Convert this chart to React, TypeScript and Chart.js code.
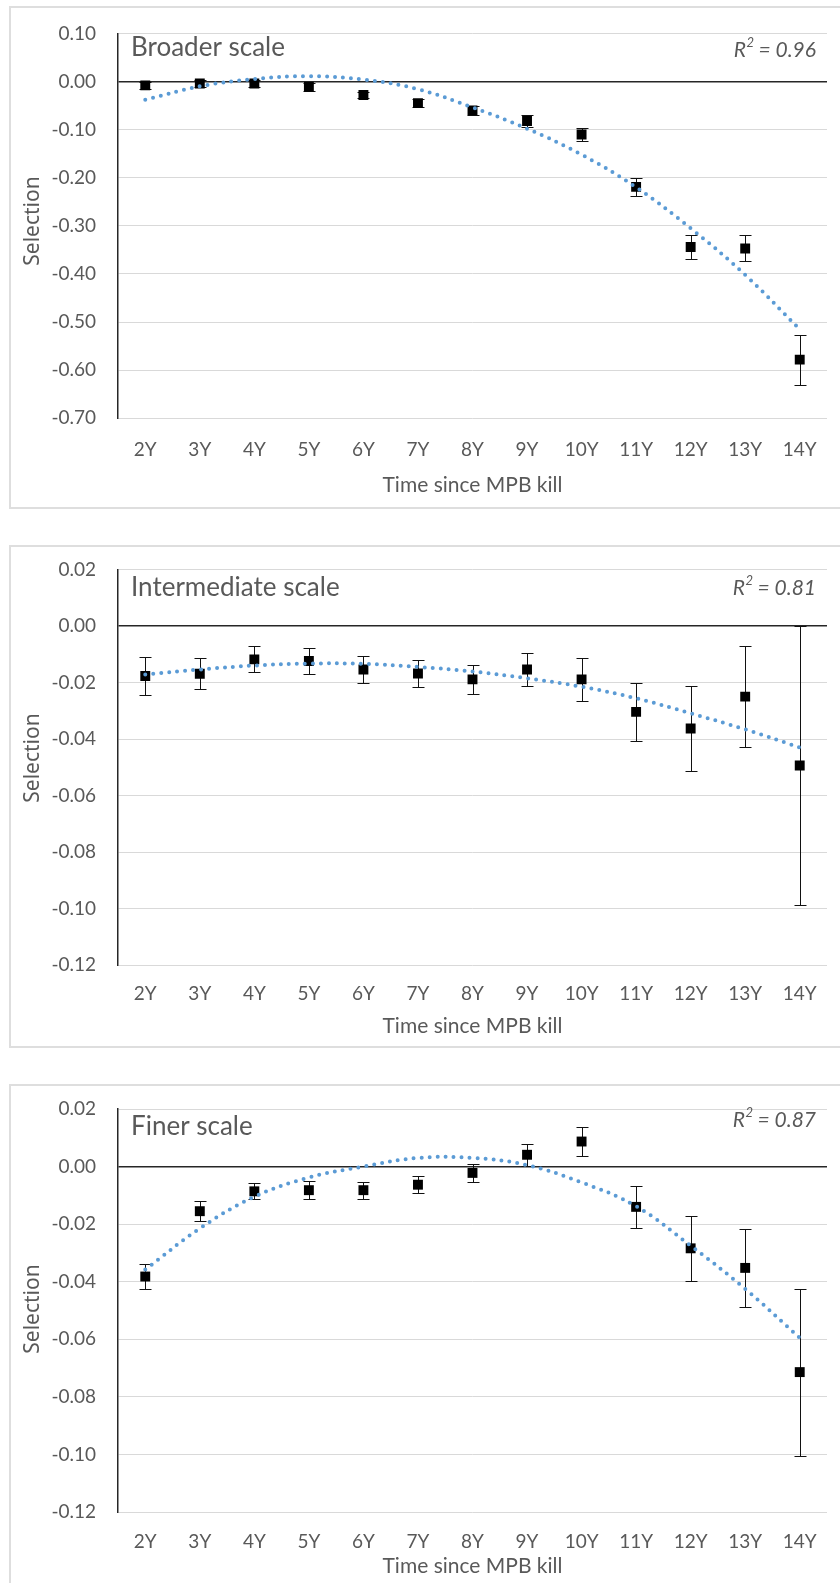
import React, { useEffect, useRef } from "react";
import { Chart, registerables } from "chart.js";

Chart.register(...registerables);

// ---------- data ----------
const categories = ["2Y", "3Y", "4Y", "5Y", "6Y", "7Y", "8Y", "9Y", "10Y", "11Y", "12Y", "13Y", "14Y"];

const broaderValues = [-0.008, -0.004, -0.004, -0.011, -0.028, -0.045, -0.060, -0.082, -0.110, -0.219, -0.344, -0.347, -0.578];
const broaderErrors = [0.008, 0.008, 0.008, 0.008, 0.007, 0.008, 0.009, 0.013, 0.014, 0.019, 0.024, 0.027, 0.052];
const broaderTrend = [-0.038, -0.010, 0.005, 0.011, 0.004, -0.016, -0.054, -0.098, -0.152, -0.220, -0.305, -0.402, -0.515];
const broaderTicks = [0.1, 0.0, -0.1, -0.2, -0.3, -0.4, -0.5, -0.6, -0.7];

const interValues = [-0.0177, -0.0169, -0.0118, -0.0124, -0.0154, -0.0168, -0.0189, -0.0154, -0.0189, -0.0304, -0.0363, -0.0250, -0.0494];
const interErrors = [0.0067, 0.0055, 0.0046, 0.0045, 0.0048, 0.0048, 0.0050, 0.0058, 0.0075, 0.0103, 0.0150, 0.0178, 0.0494];
const interTrend = [-0.0172, -0.0154, -0.0140, -0.0133, -0.0134, -0.0145, -0.0161, -0.0185, -0.0215, -0.0256, -0.0309, -0.0366, -0.0430];
const interTicks = [0.02, 0.0, -0.02, -0.04, -0.06, -0.08, -0.10, -0.12];

const finerValues = [-0.0382, -0.0155, -0.0086, -0.0082, -0.0082, -0.0063, -0.0022, 0.0041, 0.0087, -0.0140, -0.0284, -0.0352, -0.0714];
const finerErrors = [0.0045, 0.0035, 0.0028, 0.0032, 0.0030, 0.0030, 0.0032, 0.0038, 0.0052, 0.0074, 0.0114, 0.0135, 0.0290];
const finerTrend = [-0.0358, -0.0215, -0.0105, -0.0038, 0.0000, 0.0030, 0.0030, 0.0005, -0.0055, -0.0138, -0.0275, -0.0425, -0.0595];
const finerTicks = [0.02, 0.0, -0.02, -0.04, -0.06, -0.08, -0.10, -0.12];

const panelLabels = ["Broader scale", "Intermediate scale", "Finer scale"];
const rSquaredValues = ["0.96", "0.81", "0.87"];
const xAxisTitle = "Time since MPB kill";
const yAxisTitle = "Selection";

// ---------- styling / layout ----------
const TEXT = "#595959";
const GRID = "#d9d9d9";
const AXIS = "#262626";
const TREND = "#5B9BD5";
const FONT = "Lato, 'Open Sans', sans-serif";

type PanelSpec = {
  values: number[];
  errors: number[];
  trend: number[];
  ticks: number[];
  label: string;
  r2: string;
  top: number;
  height: number;
  chartTop: number;
  chartBottom: number;
  tickPad: number;
  titlePad: number;
  yTitleY: number;
  labelY: number;
  r2Y: number;
  boxTop: number;
  boxHeight: number;
};

const panels: PanelSpec[] = [
  {
    values: broaderValues, errors: broaderErrors, trend: broaderTrend, ticks: broaderTicks,
    label: panelLabels[0], r2: rSquaredValues[0],
    top: 0, height: 520, chartTop: 30.7, chartBottom: 418.3, tickPad: 20, titlePad: 22,
    yTitleY: 221, labelY: 48, r2Y: 50, boxTop: 6, boxHeight: 503,
  },
  {
    values: interValues, errors: interErrors, trend: interTrend, ticks: interTicks,
    label: panelLabels[1], r2: rSquaredValues[1],
    top: 530, height: 520, chartTop: 39.5, chartBottom: 435, tickPad: 17, titlePad: 10.7,
    yTitleY: 228, labelY: 58, r2Y: 58, boxTop: 545, boxHeight: 503,
  },
  {
    values: finerValues, errors: finerErrors, trend: finerTrend, ticks: finerTicks,
    label: panelLabels[2], r2: rSquaredValues[2],
    top: 1063, height: 520, chartTop: 46, chartBottom: 449, tickPad: 18, titlePad: 3.7,
    yTitleY: 246, labelY: 63.5, r2Y: 57, boxTop: 1084, boxHeight: 600,
  },
];

const isZero = (v: number | undefined) => v !== undefined && Math.abs(v) < 1e-9;
const fmt = (v: number) => (isZero(v) ? "0.00" : v.toFixed(2));

const errorBarPlugin = {
  id: "errorBars",
  beforeDatasetsDraw(chart: any, _args: any, opts: any) {
    const { ctx } = chart;
    const xs = chart.scales.x;
    const ys = chart.scales.y;
    const vals: number[] = opts.values || [];
    const errs: number[] = opts.errors || [];
    ctx.save();
    ctx.strokeStyle = "#111";
    ctx.lineWidth = 1;
    vals.forEach((v, i) => {
      const px = Math.round(xs.getPixelForValue(i)) + 0.5;
      const t = Math.round(ys.getPixelForValue(v + errs[i])) + 0.5;
      const b = Math.round(ys.getPixelForValue(v - errs[i])) + 0.5;
      ctx.beginPath();
      ctx.moveTo(px, t);
      ctx.lineTo(px, b);
      ctx.moveTo(px - 6, t);
      ctx.lineTo(px + 6, t);
      ctx.moveTo(px - 6, b);
      ctx.lineTo(px + 6, b);
      ctx.stroke();
    });
    ctx.restore();
  },
};

const textPlugin = {
  id: "panelText",
  afterDraw(chart: any, _args: any, opts: any) {
    const { ctx } = chart;
    ctx.save();
    ctx.fillStyle = TEXT;
    ctx.textBaseline = "middle";
    // panel label
    ctx.textAlign = "left";
    ctx.font = `26px ${FONT}`;
    ctx.fillText(opts.label, 131, opts.labelY);
    // R² label, right aligned
    const restText = " = " + opts.r2;
    ctx.font = `italic 21px ${FONT}`;
    const wR = ctx.measureText("R").width;
    const wRest = ctx.measureText(restText).width;
    ctx.font = `italic 13px ${FONT}`;
    const wSup = ctx.measureText("2").width;
    const right = 816;
    let x = right - wRest - wSup - wR;
    ctx.font = `italic 21px ${FONT}`;
    ctx.fillText("R", x, opts.r2Y);
    x += wR;
    ctx.font = `italic 13px ${FONT}`;
    ctx.fillText("2", x + 0.5, opts.r2Y - 7);
    x += wSup;
    ctx.font = `italic 21px ${FONT}`;
    ctx.fillText(restText, x, opts.r2Y);
    // y axis title
    ctx.translate(33, opts.yTitleY);
    ctx.rotate(-Math.PI / 2);
    ctx.textAlign = "center";
    ctx.font = `21px 'Noto Sans', 'Open Sans', sans-serif`;
    ctx.fillText(opts.yTitle, 0, 0);
    ctx.restore();
  },
};

function Panel({ spec }: { spec: PanelSpec }) {
  const ref = useRef<HTMLCanvasElement | null>(null);

  useEffect(() => {
    if (!ref.current) return;
    const sortedTicks = [...spec.ticks].sort((a, b) => a - b);
    const chart = new Chart(ref.current, {
      type: "line",
      data: {
        labels: categories,
        datasets: [
          {
            label: "Trend",
            data: spec.trend,
            borderColor: TREND,
            borderWidth: 4,
            borderDash: [0, 8],
            borderCapStyle: "round",
            pointRadius: 0,
            tension: 0.4,
            fill: false,
            order: 0,
          } as any,
          {
            label: "Selection",
            data: spec.values,
            showLine: false,
            pointStyle: "rect",
            pointRadius: 7,
            pointHoverRadius: 7,
            pointBackgroundColor: "#000",
            pointBorderColor: "#000",
            pointBorderWidth: 0,
            order: 1,
          } as any,
        ],
      },
      options: {
        animation: false,
        responsive: false,
        maintainAspectRatio: false,
        devicePixelRatio: 1,
        events: [],
        layout: { padding: { top: spec.chartTop, right: 13, left: 0, bottom: 0 } },
        plugins: {
          legend: { display: false },
          tooltip: { enabled: false },
          errorBars: { values: spec.values, errors: spec.errors },
          panelText: {
            label: spec.label,
            r2: spec.r2,
            labelY: spec.labelY,
            r2Y: spec.r2Y,
            yTitleY: spec.yTitleY,
            yTitle: yAxisTitle,
          },
        } as any,
        scales: {
          x: {
            type: "category",
            offset: true,
            grid: { display: false, drawTicks: false },
            border: { display: false },
            ticks: {
              padding: spec.tickPad,
              color: TEXT,
              font: { family: FONT, size: 19 },
              maxRotation: 0,
              autoSkip: false,
            },
            title: {
              display: true,
              text: xAxisTitle,
              color: TEXT,
              font: { family: FONT, size: 21 },
              padding: { top: 0, bottom: spec.titlePad },
            },
            afterFit: (s: any) => {
              s.height = spec.height - spec.chartBottom;
            },
          } as any,
          y: {
            type: "linear",
            min: sortedTicks[0],
            max: sortedTicks[sortedTicks.length - 1],
            afterBuildTicks: (s: any) => {
              s.ticks = sortedTicks.map((v) => ({ value: v }));
            },
            grid: {
              drawTicks: false,
              color: (c: any) => (isZero(c.tick?.value) ? AXIS : GRID),
              lineWidth: (c: any) => (isZero(c.tick?.value) ? 1.6 : 1),
            },
            border: { display: true, color: AXIS, width: 1.5 },
            ticks: {
              padding: 22,
              color: TEXT,
              font: { family: FONT, size: 19 },
              callback: (v: any) => fmt(Number(v)),
            },
            afterFit: (s: any) => {
              s.width = 118;
            },
          } as any,
        },
      },
      plugins: [errorBarPlugin as any, textPlugin as any],
    });
    return () => chart.destroy();
  }, [spec]);

  return (
    <>
      <div
        style={{
          position: "absolute",
          left: 9,
          top: spec.boxTop,
          width: 840,
          height: spec.boxHeight,
          border: "2px solid #dedede",
          boxSizing: "border-box",
        }}
      />
      <canvas
        ref={ref}
        width={840}
        height={spec.height}
        style={{ position: "absolute", left: 0, top: spec.top, width: 840, height: spec.height }}
      />
    </>
  );
}

export default function App() {
  return (
    <div
      style={{
        position: "absolute",
        left: 0,
        top: 0,
        width: 840,
        height: 1583,
        overflow: "hidden",
        background: "#ffffff",
      }}
    >
      {panels.map((p, i) => (
        <Panel key={i} spec={p} />
      ))}
    </div>
  );
}
